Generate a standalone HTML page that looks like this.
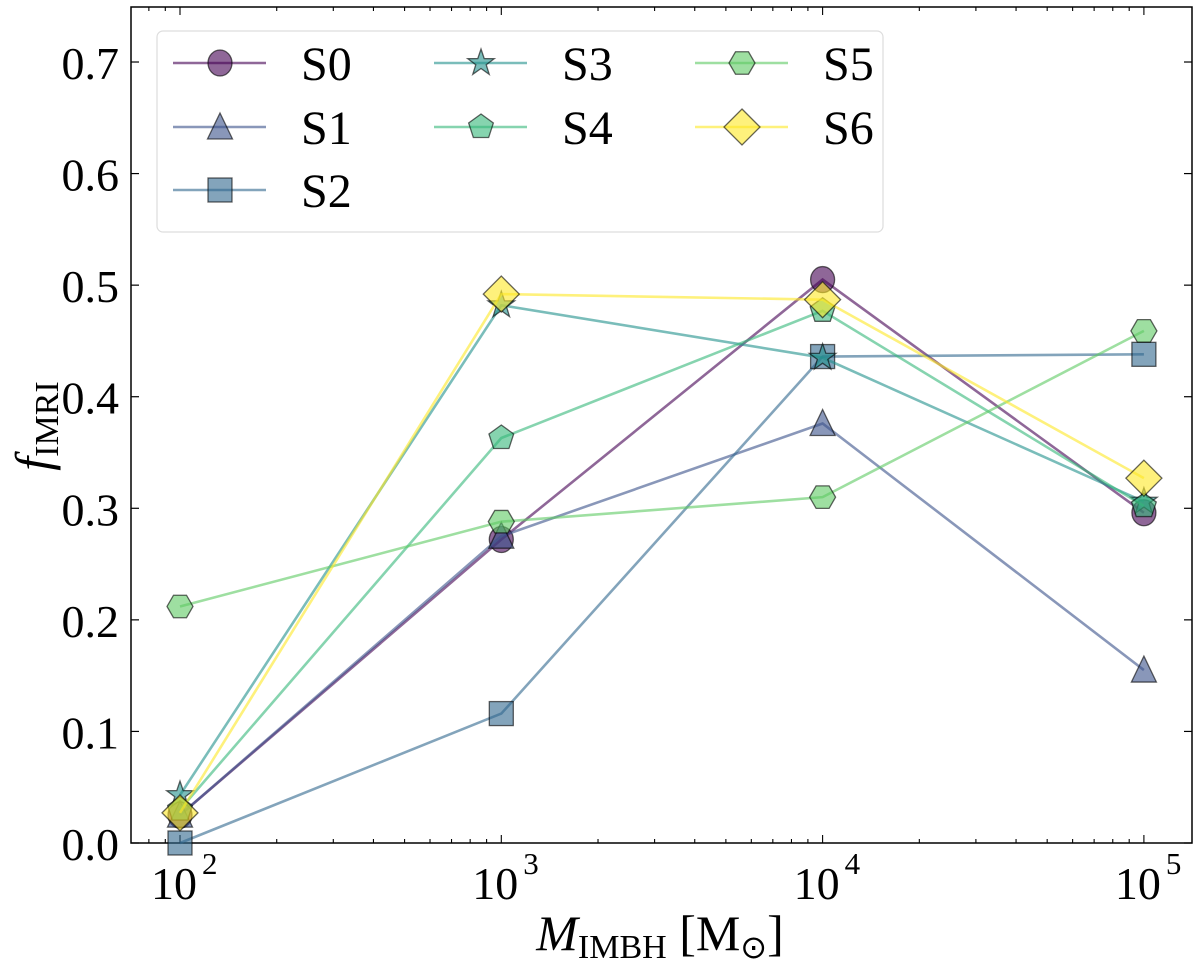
<!DOCTYPE html>
<html><head><meta charset="utf-8"><style>
html,body{margin:0;padding:0;background:#fff;}
svg{display:block;font-family:"Liberation Serif",serif;}
</style></head><body>
<svg id="chart" width="1200" height="961" viewBox="0 0 1200 961" xmlns="http://www.w3.org/2000/svg"></svg>
<script>
const masses = [100, 1000, 10000, 100000];
const seriesNames = ["S0","S1","S2","S3","S4","S5","S6"];
const s0 = [0.025, 0.272, 0.505, 0.296];
const s1 = [0.025, 0.275, 0.376, 0.155];
const s2 = [0.0, 0.116, 0.436, 0.438];
const s3 = [0.043, 0.482, 0.435, 0.306];
const s4 = [0.03, 0.363, 0.477, 0.302];
const s5 = [0.212, 0.288, 0.31, 0.459];
const s6 = [0.027, 0.492, 0.487, 0.327];
const yTicks = [0.0,0.1,0.2,0.3,0.4,0.5,0.6,0.7];
const xTickExps = [2,3,4,5];
const colors = ["#440154","#3b528b","#31688e","#21918c","#35b779","#5ec962","#fde725"];
const markers = ["circle","triangle","square","star","pentagon","hexagon","diamond"];
const allSeries = [s0,s1,s2,s3,s4,s5,s6];

const L=131, R=1192, T=7, B=843;
function xs(v){ return 180 + (Math.log10(v)-2)*321.3; }
function ys(v){ return B - v*1115.7; }

const NS="http://www.w3.org/2000/svg";
const svg=document.getElementById('chart');
function mk(tag, attrs, parent){ const e=document.createElementNS(NS,tag); for(const k in attrs) e.setAttribute(k,attrs[k]); (parent||svg).appendChild(e); return e; }

function markerShape(type, cx, cy, color, parent, scale){
  const s = scale||1;
  const st = {fill:color,'fill-opacity':0.6,stroke:'#000','stroke-opacity':0.6,'stroke-width':1.3};
  let e; let pts=[];
  if(type==='circle'){ e=mk('ellipse',Object.assign({cx:cx,cy:cy,rx:12*s,ry:13*s},st),parent); return e; }
  if(type==='square'){ e=mk('rect',Object.assign({x:cx-12*s,y:cy-12*s,width:24*s,height:24*s},st),parent); return e; }
  if(type==='triangle'){ pts=[[0,-14],[12.5,12],[-12.5,12]]; }
  if(type==='diamond'){ pts=[[0,-18],[18,0],[0,18],[-18,0]]; }
  if(type==='pentagon'){ for(let i=0;i<5;i++){const a=-Math.PI/2+i*2*Math.PI/5; pts.push([13*Math.cos(a),13*Math.sin(a)]);} }
  if(type==='hexagon'){ for(let i=0;i<6;i++){const a=i*Math.PI/3; pts.push([13*Math.cos(a),13*Math.sin(a)]);} }
  if(type==='star'){ for(let i=0;i<10;i++){const a=-Math.PI/2+i*Math.PI/5; const r=i%2?5.5:14; pts.push([r*Math.cos(a),r*Math.sin(a)]);} }
  e=mk('polygon',Object.assign({points:pts.map(p=>(cx+p[0]*s)+','+(cy+p[1]*s)).join(' ')},st),parent);
  return e;
}

const frame = mk('rect',{x:L,y:T,width:R-L,height:B-T,fill:'none',stroke:'#000','stroke-width':1.5});



const yAxis = mk('g',{});


yTicks.forEach(v=>{
  const y=ys(v);
  mk('line',{x1:L,x2:L+8,y1:y,y2:y,stroke:'#000','stroke-width':1.2},yAxis);
  mk('line',{x1:R,x2:R-8,y1:y,y2:y,stroke:'#000','stroke-width':1.2},yAxis);
  const t=mk('text',{x:119,y:y+17,'text-anchor':'end','font-size':46},yAxis);
  t.textContent=v.toFixed(1);
  
  
});
const xAxis = mk('g',{});


for(let d=1; d<=5; d++){
  for(let m=1;m<10;m++){
    const v=m*Math.pow(10,d); const x=xs(v);
    if(x<L||x>R) continue;
    const len = m===1?8:4;
    mk('line',{x1:x,x2:x,y1:B,y2:B-len,stroke:'#000','stroke-width':1.1},xAxis);
    mk('line',{x1:x,x2:x,y1:T,y2:T+len,stroke:'#000','stroke-width':1.1},xAxis);
  }
}
xTickExps.forEach(p=>{
  const x=xs(Math.pow(10,p));
  const t=mk('text',{x:x-6,y:899,'text-anchor':'middle','font-size':46},xAxis);
  t.textContent='10';
  
  
  const sup=mk('text',{x:x+22,y:874,'text-anchor':'start','font-size':31},xAxis);
  sup.textContent=String(p);
});

const xt = mk('text',{x:660,y:950,'text-anchor':'middle','font-size':50});


xt.innerHTML='<tspan font-style="italic">M</tspan><tspan font-size="34" dy="8">IMBH</tspan><tspan dy="-8"> [M</tspan><tspan font-size="32" dy="8">⊙</tspan><tspan dy="-8">]</tspan>';
const yt = mk('text',{x:0,y:0,'text-anchor':'middle','font-size':50,transform:'translate(50,426) rotate(-90)'});


yt.innerHTML='<tspan font-style="italic">f</tspan><tspan font-size="34" dy="8">IMRI</tspan>';

allSeries.forEach((vals,i)=>{
  const g=mk('g',{});
  
  
  const pts=vals.map((v,j)=>xs(masses[j])+','+ys(v)).join(' ');
  mk('polyline',{points:pts,fill:'none',stroke:colors[i],'stroke-opacity':0.6,'stroke-width':2.6},g);
  vals.forEach((v,j)=>{
    const m=markerShape(markers[i],xs(masses[j]),ys(v),colors[i],g);
    
    
  });
});

const lg=mk('g',{});


mk('rect',{x:157,y:31,width:726,height:201,rx:6,fill:'#fff','fill-opacity':0.8,stroke:'#ddd','stroke-width':1.2},lg);
const colX=[173,434,695], rowY=[63,127,190];
seriesNames.forEach((n,i)=>{
  const c=i<3?0:(i<5?1:2);
  const r=i<3?i:(i<5?i-3:i-5);
  const x0=colX[c], y0=rowY[r];
  const e=mk('g',{},lg);
  
  
  mk('line',{x1:x0,x2:x0+93,y1:y0,y2:y0,stroke:colors[i],'stroke-opacity':0.6,'stroke-width':2.6},e);
  markerShape(markers[i],x0+47,y0,colors[i],e);
  const t=mk('text',{x:x0+128,y:y0+17,'font-size':48},e);
  t.textContent=n;
});
</script>
</body></html>
